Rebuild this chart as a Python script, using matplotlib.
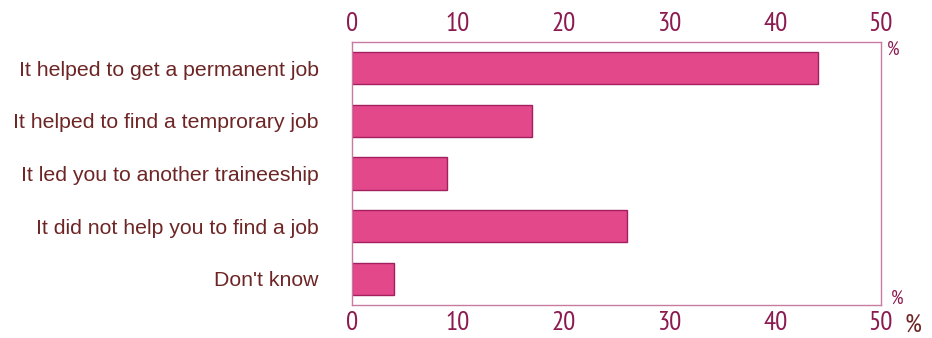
import matplotlib
matplotlib.use("Agg")
import matplotlib.pyplot as plt
from matplotlib import font_manager

categories = [
    "It helped to get a permanent job",
    "It helped to find a temprorary job",
    "It led you to another traineeship",
    "It did not help you to find a job",
    "Don't know",
]
values = [44, 17, 9, 26, 4]
ticks = [0, 10, 20, 30, 40, 50]

bar_color = "#E3488B"
edge_color = "#A3205E"
frame_color = "#C77BA0"
tick_color = "#8B1A50"
label_color = "#6E2525"

# pick a narrow face for the numbers, falling back to DejaVu Sans
names = {f.name for f in font_manager.fontManager.ttflist}
num_font = "DejaVu Sans"
for cand in ["PT Sans Narrow", "Fira Sans Condensed", "Roboto Condensed",
             "Open Sans Condensed", "Asap Condensed", "Barlow Semi Condensed",
             "Encode Sans Condensed", "Liberation Sans Narrow"]:
    if cand in names:
        num_font = cand
        break

fig = plt.figure(figsize=(9.32, 3.38), dpi=100)
ax = fig.add_axes([352 / 932, 1 - 305 / 338, (881 - 352) / 932, (305 - 42) / 338])

y = list(range(len(categories)))
ax.barh(y, values, height=0.61, color=bar_color, edgecolor=edge_color, linewidth=1.0)
ax.set_xlim(0, 50)
ax.set_ylim(len(categories) - 0.5, -0.5)

ax.set_yticks(y)
ax.set_yticklabels(categories, fontsize=15.3, color=label_color, family="Liberation Sans")
ax.tick_params(axis="y", length=0, pad=24)

ax.set_xticks(ticks)
ax.set_xticklabels([str(t) for t in ticks])
ax.tick_params(axis="x", length=0, labelsize=19.5, labelcolor=tick_color,
               top=True, labeltop=True, bottom=False, labelbottom=True, pad=4)
for t in ax.xaxis.get_major_ticks():
    t.label1.set_family(num_font)
    t.label2.set_family(num_font)

for s in ax.spines.values():
    s.set_color(frame_color)
    s.set_linewidth(1.0)

fig.text(893 / 932, 1 - 50 / 338, "%", fontsize=14, color=tick_color,
         family=num_font, ha="center", va="center")
fig.text(897 / 932, 1 - 299 / 338, "%", fontsize=14, color=tick_color,
         family=num_font, ha="center", va="center")
fig.text(905 / 932, 1 - 325 / 338, "%", fontsize=19, color=label_color,
         family=num_font, ha="left", va="center")

fig.savefig("out.png", dpi=100, facecolor="white")
